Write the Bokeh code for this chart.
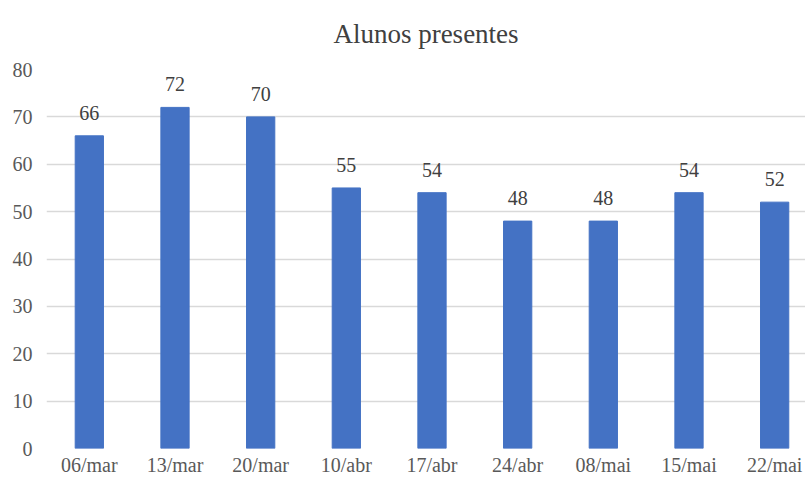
from bokeh.plotting import figure
from bokeh.models import Range1d, ColumnDataSource, FixedTicker
from bokeh.embed import file_html
from bokeh.resources import INLINE
from bokeh.core.properties import value

categories = ["06/mar", "13/mar", "20/mar", "10/abr", "17/abr", "24/abr", "08/mai", "15/mai", "22/mai"]
values = [66, 72, 70, 55, 54, 48, 48, 54, 52]
y_ticks = [0, 10, 20, 30, 40, 50, 60, 70, 80]
title_text = "Alunos presentes"

FONT = "Liberation Serif"
xs = list(range(len(categories)))
src = ColumnDataSource(dict(x=xs, top=values, label=[str(v) for v in values]))

p = figure(width=805, height=478, output_backend="svg", toolbar_location=None,
           x_range=Range1d(-0.5, 8.36), y_range=Range1d(0, 80),
           min_border_left=46, min_border_right=0, min_border_bottom=28, min_border_top=68)
p.title.text = title_text
p.title.align = "center"
p.title.vertical_align = "top"
p.title.text_font = FONT
p.title.text_font_size = "27px"
p.title.text_font_style = "normal"
p.title.text_color = "#404040"
p.title.standoff = 37

p.vbar(x="x", top="top", width=0.33, bottom=0, color="#4472c4", source=src)
p.text(x="x", y="top", text="label", source=src, text_align="center", text_baseline="bottom",
       y_offset=-16, text_font=value(FONT), text_font_size="20px", text_color="#404040")

p.xaxis.ticker = FixedTicker(ticks=xs)
p.xaxis.major_label_overrides = {i: c for i, c in enumerate(categories)}
p.yaxis.ticker = FixedTicker(ticks=y_ticks)
for ax in (p.xaxis[0], p.yaxis[0]):
    ax.axis_line_color = None
    ax.major_tick_line_color = None
    ax.minor_tick_line_color = None
    ax.major_tick_out = 0
    ax.major_tick_in = 0
    ax.major_label_text_font = FONT
    ax.major_label_text_font_size = "20px"
    ax.major_label_text_color = "#595959"
p.yaxis.major_label_standoff = 14
p.xaxis.major_label_standoff = 5
p.xgrid.grid_line_color = None
p.ygrid.ticker = FixedTicker(ticks=y_ticks)
p.ygrid.grid_line_color = "#d9d9d9"
p.ygrid.grid_line_width = 1.5
p.outline_line_color = None

open("out.html", "w").write(file_html(p, INLINE))
